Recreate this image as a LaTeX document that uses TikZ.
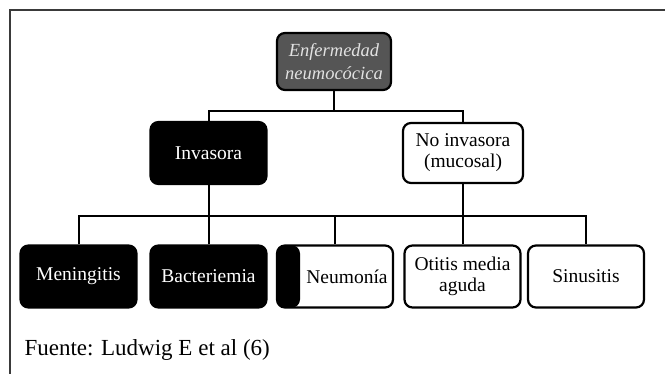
\documentclass[tikz,border=0pt]{standalone}
\usepackage{fontspec}
\setmainfont{Liberation Serif}
\usepackage{xcolor}
\definecolor{boxgray}{HTML}{555555}
\definecolor{txtgray}{HTML}{E2E2E2}
\definecolor{framegray}{HTML}{3A3A3A}

\begin{document}
\begin{tikzpicture}[
    x=1pt,
    y=-1pt,
    box/.style={
        draw=black,
        line width=2.2pt,
        rounded corners=8pt,
        minimum width=116pt,
        minimum height=62pt,
        align=center,
        font=\fontsize{19.5}{21}\selectfont
    },
    darkbox/.style={
        box,
        fill=black,
        text=white
    },
    lightbox/.style={
        box,
        fill=white
    },
    topbox/.style={
        box,
        fill=boxgray,
        text=txtgray,
        minimum width=114pt,
        minimum height=57pt,
        font=\itshape\fontsize{18.5}{23}\selectfont
    },
    halfbox/.style={
        lightbox,
        execute at begin node=\hspace*{24pt},
        path picture={
            \fill[black] (path picture bounding box.south west)
                rectangle ([xshift=23pt]path picture bounding box.north west);
        }
    },
    link/.style={
        line width=2pt
    }
]

\useasboundingbox (0,0) rectangle (665,374);
\fill[white] (0,0) rectangle (665,374);

% frame
\draw[framegray, line width=1.8pt] (10,374) -- (10,10) -- (665,10);

% top level
\node[topbox] (enf) at (334,61.5) {Enfermedad\\neumocócica};

% second level
\node[darkbox] (inv) at (208.5,153) {Invasora};
\node[lightbox, minimum width=120pt, minimum height=60pt] (noinv) at (463,153) {No invasora\\(mucosal)};

% third level
\node[darkbox] (mening) at (78.5,276.5) {Meningitis};
\node[darkbox] (bact) at (208.5,276.5) {Bacteriemia};
\node[halfbox] (neum) at (335,276.5) {Neumonía};
\node[lightbox] (otitis) at (462.5,276.5) {Otitis media\\aguda};
\node[lightbox] (sinus) at (586,276.5) {Sinusitis};

\coordinate (upbus) at (0,111);
\coordinate (lowbus) at (0,216);

\draw[link] (enf.south) -- (enf.south |- upbus);
\draw[link] (inv.north) -- (inv.north |- upbus) -| (noinv.north);

\draw[link] (mening.north) -- (mening.north |- lowbus) -- (sinus.north |- lowbus) -- (sinus.north);
\draw[link] (inv.south) -- (inv.south |- lowbus);
\draw[link] (noinv.south) -- (noinv.south |- lowbus);
\foreach \n in {bact,neum,otitis}
    \draw[link] (\n.north) -- (\n.north |- lowbus);

\node[anchor=west, font=\fontsize{23}{26}\selectfont] (src) at (21,350) {Fuente: Ludwig E et al (6)};

\end{tikzpicture}
\end{document}
